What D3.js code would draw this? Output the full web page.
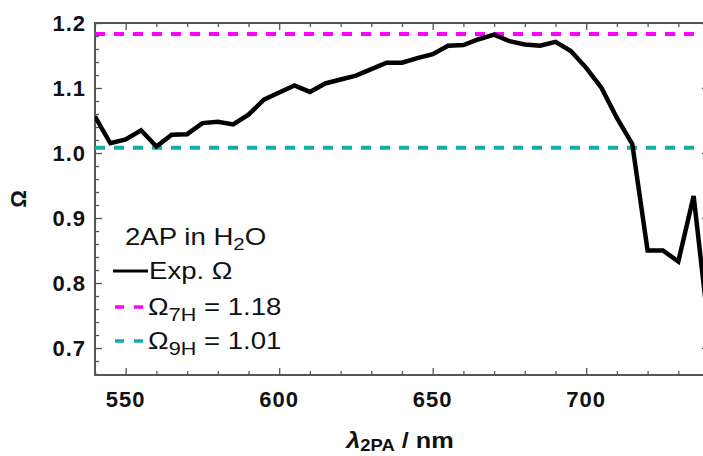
<!DOCTYPE html>
<html>
<head>
<meta charset="utf-8">
<script src="https://cdn.jsdelivr.net/npm/d3@7"></script>
<style>
  html, body { margin: 0; padding: 0; background: #fff; }
  svg { display: block; }
  text { font-family: "Liberation Sans", Arial, Helvetica, sans-serif; }
</style>
</head>
<body>
<svg id="chart" width="703" height="456"></svg>
<script>
// ---- data ----
const wavelengths = [540, 545, 550, 555, 560, 565, 570, 575, 580, 585, 590, 595, 600, 605, 610, 615, 620, 625, 630, 635, 640, 645, 650, 655, 660, 665, 670, 675, 680, 685, 690, 695, 700, 705, 710, 715, 720, 725, 730, 735, 740];
const omegaExp = [1.056, 1.015, 1.021, 1.035, 1.010, 1.028, 1.029, 1.046, 1.048, 1.044, 1.059, 1.082, 1.093, 1.104, 1.094, 1.107, 1.113, 1.119, 1.129, 1.139, 1.139, 1.146, 1.152, 1.165, 1.166, 1.175, 1.182, 1.172, 1.167, 1.165, 1.171, 1.157, 1.131, 1.100, 1.054, 1.014, 0.850, 0.850, 0.833, 0.934, 0.725];
const refNames = ["7H", "9H"];
const refValues = [1.183, 1.008];
const refLabels = ["1.18", "1.01"];
const refColors = ["#ff00ff", "#13adaa"];
const xMajorTicks = [550, 600, 650, 700];
const yMajorTicks = [0.7, 0.8, 0.9, 1.0, 1.1, 1.2];

// ---- layout ----
const svg = d3.select("#chart");
const L = 95, R = 709, T = 23, B = 375;
const x = d3.scaleLinear().domain([540, 740]).range([L, R]);
const y = d3.scaleLinear().domain([0.6585, 1.2]).range([B, T]);

const xMinor = d3.range(540, 741, 10).filter(v => !xMajorTicks.includes(v));
const yMinor = d3.range(66, 121, 2).map(v => v / 100).filter(v => !yMajorTicks.some(m => Math.abs(m - v) < 1e-6));

svg.append("defs").append("clipPath").attr("id", "plotclip")
  .append("rect").attr("x", L).attr("y", T).attr("width", R - L).attr("height", B - T);

const axisColor = "#555";
function styleAxis(g) {
  g.selectAll("path.domain").remove();
  g.selectAll(".tick line").attr("stroke", axisColor).attr("stroke-width", 1.3);
  g.selectAll(".tick text").remove();
}
// bottom
svg.append("g").attr("transform", `translate(0,${B})`)
  .call(d3.axisBottom(x).tickValues(xMajorTicks).tickSize(-7)).call(styleAxis);
svg.append("g").attr("transform", `translate(0,${B})`)
  .call(d3.axisBottom(x).tickValues(xMinor).tickSize(-4)).call(styleAxis);
// top
svg.append("g").attr("transform", `translate(0,${T})`)
  .call(d3.axisTop(x).tickValues(xMajorTicks).tickSize(-7)).call(styleAxis);
svg.append("g").attr("transform", `translate(0,${T})`)
  .call(d3.axisTop(x).tickValues(xMinor).tickSize(-4)).call(styleAxis);
// left
svg.append("g").attr("transform", `translate(${L},0)`)
  .call(d3.axisLeft(y).tickValues(yMajorTicks).tickSize(-7)).call(styleAxis);
svg.append("g").attr("transform", `translate(${L},0)`)
  .call(d3.axisLeft(y).tickValues(yMinor).tickSize(-4)).call(styleAxis);
// right
svg.append("g").attr("transform", `translate(${R},0)`)
  .call(d3.axisRight(y).tickValues(yMajorTicks).tickSize(-7)).call(styleAxis);
svg.append("g").attr("transform", `translate(${R},0)`)
  .call(d3.axisRight(y).tickValues(yMinor).tickSize(-4)).call(styleAxis);

// frame
svg.append("rect").attr("x", L).attr("y", T).attr("width", R - L).attr("height", B - T)
  .attr("fill", "none").attr("stroke", axisColor).attr("stroke-width", 2);

// tick labels
svg.append("g").selectAll("text").data(xMajorTicks).join("text")
  .attr("x", d => x(d)).attr("y", 406.5)
  .attr("text-anchor", "middle")
  .attr("font-size", 22).attr("font-weight", "bold").attr("letter-spacing", 1)
  .attr("fill", "#111")
  .text(d => d);
svg.append("g").selectAll("text").data(yMajorTicks).join("text")
  .attr("x", 86).attr("y", d => y(d) + 8)
  .attr("text-anchor", "end")
  .attr("font-size", 22).attr("font-weight", "bold").attr("letter-spacing", 1)
  .attr("fill", "#111")
  .text(d => d.toFixed(1));

// axis titles
svg.append("text")
  .attr("transform", "translate(26,199) rotate(-90)")
  .attr("text-anchor", "middle")
  .attr("font-size", 22).attr("font-weight", "bold").attr("fill", "#111")
  .text("Ω");
const xt = svg.append("text")
  .attr("transform", "translate(400,448) scale(1.15,1)")
  .attr("text-anchor", "middle").attr("font-size", 22).attr("font-weight", "bold").attr("fill", "#111");
xt.append("tspan").attr("font-style", "italic").text("λ");
xt.append("tspan").attr("font-size", 16).attr("dy", 3).text("2PA");
xt.append("tspan").attr("dy", -3).text(" / nm");

// reference lines
const plot = svg.append("g").attr("clip-path", "url(#plotclip)");
plot.selectAll("line.ref").data(refValues).join("line")
  .attr("class", "ref")
  .attr("x1", L).attr("x2", R)
  .attr("y1", d => y(d)).attr("y2", d => y(d))
  .attr("stroke", (d, i) => refColors[i]).attr("stroke-width", 4)
  .attr("stroke-dasharray", "10,9");

// experimental line
const line = d3.line().x((d, i) => x(wavelengths[i])).y(d => y(d));
plot.append("path").datum(omegaExp)
  .attr("d", line).attr("fill", "none")
  .attr("stroke", "#000").attr("stroke-width", 4.5).attr("stroke-linejoin", "miter");

// legend
const lg = svg.append("g").attr("fill", "#111").attr("font-size", 23);
const sx = 1.2;
const t0 = lg.append("text").attr("transform", `translate(125,245) scale(${sx},1)`);
t0.append("tspan").text("2AP in H");
t0.append("tspan").attr("font-size", 17).attr("dy", 5).text("2");
t0.append("tspan").attr("dy", -5).text("O");

lg.append("line").attr("x1", 113).attr("x2", 148).attr("y1", 271).attr("y2", 271)
  .attr("stroke", "#000").attr("stroke-width", 3);
lg.append("text").attr("transform", `translate(149,279) scale(${sx},1)`).text("Exp. Ω");

const legY = [307, 341];
refNames.forEach((n, i) => {
  lg.append("line").attr("x1", 115).attr("x2", 144).attr("y1", legY[i]).attr("y2", legY[i])
    .attr("stroke", refColors[i]).attr("stroke-width", 3.5).attr("stroke-dasharray", "9,10");
  const t = lg.append("text").attr("transform", `translate(148,${legY[i] + 8}) scale(${sx},1)`);
  t.append("tspan").text("Ω");
  t.append("tspan").attr("font-size", 18).attr("dy", 6).text(n);
  t.append("tspan").attr("dy", -6).text(" = " + refLabels[i]);
});
</script>
</body>
</html>
